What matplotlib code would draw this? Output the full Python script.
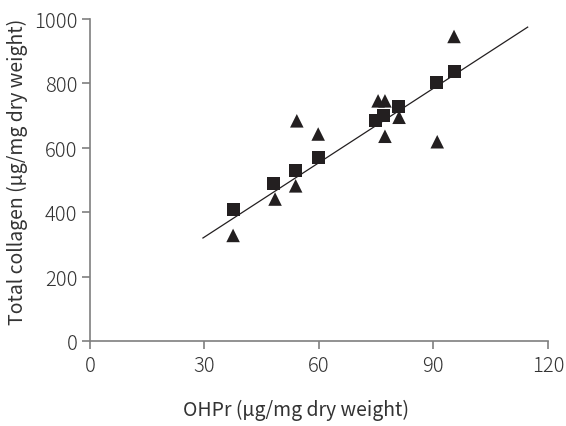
import matplotlib.pyplot as plt

# OHPr vs total collagen, two sample groups + regression line
sq_x = [37.5, 48.2, 53.9, 59.8, 74.7, 76.8, 80.8, 90.8, 95.4]
sq_y = [410, 490, 529, 570, 684, 700, 729, 803, 836]

tri_x = [37.5, 48.5, 53.9, 54.2, 59.8, 75.5, 77.3, 77.3, 81.0, 91.0, 95.4]
tri_y = [328, 441, 482, 684, 643, 746, 746, 636, 695, 619, 946]

fit_x = [29.6, 114.7]
fit_y = [320, 975]

x_ticks = [0, 30, 60, 90, 120]
y_ticks = [0, 200, 400, 600, 800, 1000]

plt.rcParams['font.family'] = ['Noto Sans CJK JP', 'DejaVu Sans']
plt.rcParams['font.weight'] = 'light'

fig = plt.figure(figsize=(5.66, 4.27), dpi=100)
ax = fig.add_axes([0.159, 0.199, 0.809, 0.754])

mk = '#231f20'
ax.plot(fit_x, fit_y, color='#231f20', lw=0.9, zorder=2)
ax.scatter(sq_x, sq_y, marker='s', s=88, color=mk, edgecolors='none', zorder=3)
ax.scatter(tri_x, tri_y, marker='^', s=95, color=mk, edgecolors='none', zorder=3)

ax.set_xlim(0, 120)
ax.set_ylim(0, 1000)
ax.set_xticks(x_ticks)
ax.set_yticks(y_ticks)

for side in ['top', 'right']:
    ax.spines[side].set_visible(False)
for side in ['left', 'bottom']:
    ax.spines[side].set_color('#7f7f7f')
    ax.spines[side].set_linewidth(1.2)

ax.tick_params(colors='#7f7f7f', labelcolor='#333333', length=6, width=1.2,
               labelsize=14.5, direction='out')
ax.tick_params(axis='x', pad=4)
ax.tick_params(axis='y', pad=3)

ax.set_xlabel('OHPr (µg/mg dry weight)', fontsize=14, color='#333333')
ax.set_ylabel('Total collagen (µg/mg dry weight)', fontsize=14, color='#333333')
ax.xaxis.set_label_coords(0.45, -0.18)
ax.yaxis.set_label_coords(-0.136, 0.53)

fig.savefig('out.png', dpi=100)
